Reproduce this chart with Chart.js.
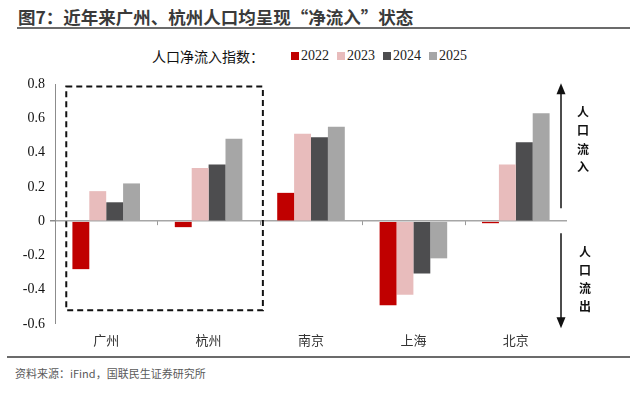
<!DOCTYPE html>
<html>
<head>
<meta charset="utf-8">
<script src="https://cdn.jsdelivr.net/npm/chart.js@4"></script>
<style>
  html, body { margin: 0; padding: 0; background: #fff; }
  #wrap { position: relative; width: 641px; height: 394px; overflow: hidden; }
  #title {
    position: absolute; left: 18px; top: 4px;
    font: bold 17.5px "Noto Sans CJK SC", sans-serif; color: #3a3a3a; white-space: nowrap;
  }
  #titleLine { position: absolute; left: 17px; top: 27px; width: 613px; height: 2px; background: #6b6b6b; }
  #legend {
    position: absolute; left: 152px; top: 46px; height: 20px;
    display: flex; align-items: center; white-space: nowrap;
  }
  #legend .prefix { font: 14px "Noto Sans CJK SC", serif; color: #111; margin-right: 27px; }
  #legend .item { display: flex; align-items: center; margin-right: 8px;
    font: 14px "Liberation Serif", serif; color: #222; }
  #legend .box { width: 8px; height: 8px; margin-right: 2px; }
  #chartBox { position: absolute; left: 0; top: 70px; width: 641px; height: 284px; }
  #footLine { position: absolute; left: 7px; top: 356px; width: 623px; height: 2px; background: #6b6b6b; }
  #source { position: absolute; left: 15px; top: 365px; font: 11px "Noto Sans CJK SC", sans-serif; color: #5a5a5a; }
</style>
</head>
<body>
<div id="wrap">
  <div id="title">图7：近年来广州、杭州人口均呈现“净流入”状态</div>
  <div id="titleLine"></div>
  <div id="legend"><span class="prefix">人口净流入指数：</span></div>
  <div id="chartBox"><canvas id="chart"></canvas></div>
  <div id="footLine"></div>
  <div id="source">资料来源：iFind，国联民生证券研究所</div>
</div>
<script>
// 数据
const cities = ['广州', '杭州', '南京', '上海', '北京'];
const years = ['2022', '2023', '2024', '2025'];
const v2022 = [-0.28, -0.035, 0.165, -0.49, -0.012];
const v2023 = [0.175, 0.31, 0.51, -0.43, 0.33];
const v2024 = [0.11, 0.33, 0.49, -0.306, 0.46];
const v2025 = [0.22, 0.48, 0.55, -0.217, 0.63];
const yTicks = [0.8, 0.6, 0.4, 0.2, 0, -0.2, -0.4, -0.6];
const colors = ['#c00000', '#e8bcbc', '#4d4d4f', '#a6a6a6'];
const inLabel = ['人', '口', '流', '入'];
const outLabel = ['人', '口', '流', '出'];

const series = [v2022, v2023, v2024, v2025];

// HTML 图例
const legend = document.getElementById('legend');
years.forEach((y, i) => {
    const item = document.createElement('span');
    item.className = 'item';
    item.innerHTML = `<span class="box" style="background:${colors[i]}"></span>${y}`;
    legend.appendChild(item);
});

// 虚线框 + 右侧箭头
const decorations = {
    id: 'decorations',
    afterDatasetsDraw(chart) {
        const { ctx, chartArea, scales: { x, y } } = chart;
        ctx.save();

        // 坐标轴刻度（零线上）
        ctx.strokeStyle = '#9a9a9a';
        ctx.lineWidth = 1;
        const y0 = y.getPixelForValue(0);
        for (let i = 0; i < cities.length - 1; i++) {
            const px = Math.round(x.getPixelForValue(i + 0.5)) + 0.5;
            ctx.beginPath();
            ctx.moveTo(px, y0);
            ctx.lineTo(px, y0 + 4);
            ctx.stroke();
        }

        // 广州、杭州虚线框
        const left = x.getPixelForValue(-0.39);
        const right = x.getPixelForValue(1.53);
        const top = y.getPixelForValue(0.785);
        const bottom = y.getPixelForValue(-0.52);
        ctx.strokeStyle = '#111';
        ctx.lineWidth = 2;
        ctx.setLineDash([6, 4]);
        ctx.strokeRect(left, top, right - left, bottom - top);
        ctx.setLineDash([]);

        // 箭头
        const ax = chartArea.right - 6;
        const drawArrow = (from, to) => {
            const fy = y.getPixelForValue(from), ty = y.getPixelForValue(to);
            const dir = ty < fy ? -1 : 1;
            ctx.strokeStyle = '#111';
            ctx.lineWidth = 1.5;
            ctx.beginPath();
            ctx.moveTo(ax, fy);
            ctx.lineTo(ax, ty - dir * 8);
            ctx.stroke();
            ctx.fillStyle = '#111';
            ctx.beginPath();
            ctx.moveTo(ax, ty);
            ctx.lineTo(ax - 4.5, ty - dir * 11);
            ctx.lineTo(ax + 4.5, ty - dir * 11);
            ctx.closePath();
            ctx.fill();
        };
        drawArrow(0.075, 0.805);
        drawArrow(-0.07, -0.625);

        // 竖排文字
        ctx.fillStyle = '#111';
        ctx.font = 'bold 12px "Noto Sans CJK SC", serif';
        ctx.textAlign = 'center';
        ctx.textBaseline = 'middle';
        inLabel.forEach((c, i) => ctx.fillText(c, ax + 22, 42 + i * 18.5));
        outLabel.forEach((c, i) => ctx.fillText(c, ax + 24, 182 + i * 18));
        ctx.restore();
    }
};

new Chart(document.getElementById('chart'), {
    type: 'bar',
    data: {
        labels: cities,
        datasets: years.map((yr, i) => ({
            label: yr,
            data: series[i],
            backgroundColor: colors[i],
            borderWidth: 0,
            barPercentage: 1.0,
            categoryPercentage: 0.66
        }))
    },
    options: {
        responsive: true,
        maintainAspectRatio: false,
        animation: false,
        layout: { padding: { top: 14, right: 74, left: 0, bottom: 0 } },
        plugins: {
            legend: { display: false },
            tooltip: { enabled: false }
        },
        scales: {
            x: {
                afterFit(s) { s.height = 30; },
                grid: { display: false },
                border: { display: false },
                ticks: {
                    color: '#333',
                    padding: 0,
                    font: { family: '"Noto Sans CJK SC", serif', size: 13 }
                }
            },
            y: {
                min: -0.6,
                max: 0.8,
                afterFit(s) { s.width = 55; },
                afterBuildTicks(s) { s.ticks = yTicks.map(v => ({ value: v })); },
                border: { display: true, color: '#8c8c8c', width: 1 },
                grid: {
                    drawOnChartArea: true,
                    color: c => (c.tick && Math.abs(c.tick.value) < 1e-9) ? '#a6a6a6' : 'rgba(0,0,0,0)',
                    lineWidth: c => (c.tick && Math.abs(c.tick.value) < 1e-9) ? 1.5 : 0,
                    tickColor: '#8c8c8c',
                    tickLength: 5
                },
                ticks: {
                    color: '#111',
                    padding: 5,
                    font: { family: '"Liberation Serif", serif', size: 14 },
                    callback: v => Math.abs(v) < 1e-9 ? '0' : (Math.round(v * 10) / 10).toFixed(1)
                }
            }
        }
    },
    plugins: [decorations]
});
</script>
</body>
</html>
